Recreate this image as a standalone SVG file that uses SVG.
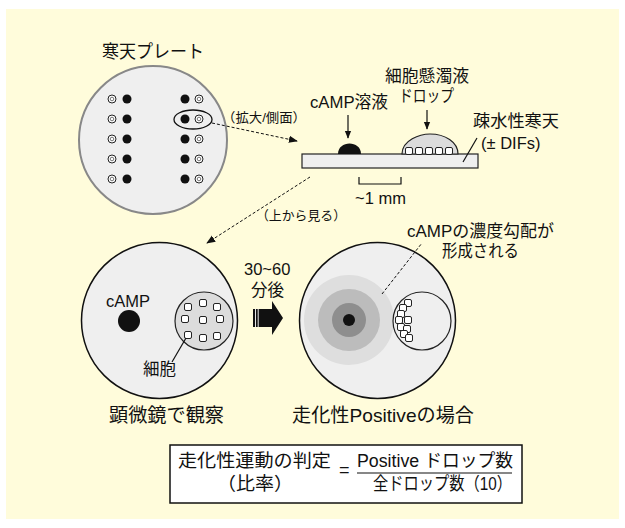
<svg xmlns="http://www.w3.org/2000/svg" width="625" height="528" viewBox="0 0 625 528">
  <defs>
    <marker id="arrowDown" viewBox="0 0 10 10" refX="9" refY="5" markerWidth="8" markerHeight="8" orient="auto" markerUnits="userSpaceOnUse">
      <path d="M0,1 L10,5 L0,9 Z" fill="#111"/>
    </marker>
    <marker id="arrowDash" viewBox="0 0 10 10" refX="9" refY="5" markerWidth="9" markerHeight="9" orient="auto" markerUnits="userSpaceOnUse">
      <path d="M0,1 L10,5 L0,9 Z" fill="#111"/>
    </marker>
    <rect id="cell" x="-3.5" y="-3.5" width="7" height="7" rx="1.5"/>
    <g id="well">
      <circle r="4" fill="#fff" stroke="#222" stroke-width="1"/>
      <circle r="1.8" fill="none" stroke="#555" stroke-width="0.8"/>
    </g>
  </defs>
  <style>
    text { font-family: "Liberation Sans", "Noto Sans CJK JP", sans-serif; fill: #111; }
    .t19 { font-size: 19px; }
    .t18 { font-size: 18px; }
    .t16 { font-size: 16.5px; }
    .t15 { font-size: 15.5px; }
    .t13 { font-size: 13px; }
    .dish { fill: #efefef; stroke: #111; stroke-width: 1.5; }
    .drop { fill: #dcdcdc; stroke: #222; stroke-width: 1.2; }
    .cell use { fill: #fff; stroke: #222; stroke-width: 1; }
    .dash { fill: none; stroke: #111; stroke-width: 1; stroke-dasharray: 3 2; }
    .solid { fill: none; stroke: #111; stroke-width: 1.2; }
  </style>

  <!-- page background -->
  <rect x="0" y="0" width="625" height="528" fill="#fff"/>
  <rect x="6" y="9" width="613" height="510" fill="#fffcdb"/>

  <!-- agar plate, top view -->
  <g id="plate">
    <text class="t18" x="102" y="58" textLength="102" lengthAdjust="spacingAndGlyphs">寒天プレート</text>
    <circle cx="153" cy="140" r="74" fill="#efefef" stroke="#888" stroke-width="2"/>
    <g fill="#111">
      <circle cx="127" cy="99" r="4.5"/><circle cx="127" cy="119" r="4.5"/><circle cx="127" cy="139" r="4.5"/><circle cx="127" cy="159" r="4.5"/><circle cx="127" cy="179" r="4.5"/>
      <circle cx="185" cy="99" r="4.5"/><circle cx="185" cy="119" r="4.5"/><circle cx="185" cy="139" r="4.5"/><circle cx="185" cy="159" r="4.5"/><circle cx="185" cy="179" r="4.5"/>
    </g>
    <use href="#well" x="112" y="99"/><use href="#well" x="112" y="119"/><use href="#well" x="112" y="139"/><use href="#well" x="112" y="159"/><use href="#well" x="112" y="179"/>
    <use href="#well" x="199" y="99"/><use href="#well" x="199" y="119"/><use href="#well" x="199" y="139"/><use href="#well" x="199" y="159"/><use href="#well" x="199" y="179"/>
    <ellipse cx="193" cy="119.5" rx="19" ry="9.5" fill="none" stroke="#111" stroke-width="1.3"/>
  </g>

  <!-- side view of one drop pair -->
  <g id="side-view">
    <text class="t16" x="385" y="82" textLength="84" lengthAdjust="spacingAndGlyphs">細胞懸濁液</text>
    <text class="t16" x="399" y="102" textLength="55" lengthAdjust="spacingAndGlyphs">ドロップ</text>
    <text class="t16" x="310" y="108" textLength="78" lengthAdjust="spacingAndGlyphs">cAMP溶液</text>
    <text class="t16" x="473" y="127" textLength="86" lengthAdjust="spacingAndGlyphs">疎水性寒天</text>
    <text class="t16" x="481" y="149">(± DIFs)</text>
    <rect x="302" y="154" width="176" height="14" fill="#efefef" stroke="#222" stroke-width="1.2"/>
    <path d="M338,154 C338,140 361,140 361,154 Z" fill="#111"/>
    <path d="M402,154 C402,140 420,134 430,134 C445,134 458,142 458,154 Z" class="drop"/>
    <g class="cell">
      <use href="#cell" x="409" y="151"/>
      <use href="#cell" x="419" y="151"/>
      <use href="#cell" x="429" y="151"/>
      <use href="#cell" x="439" y="151"/>
      <use href="#cell" x="449" y="151"/>
    </g>
    <path d="M359,177 V184 H401 V177" class="solid"/>
    <text class="t16" x="355" y="204">~1 mm</text>
  </g>

  <!-- observation under the microscope -->
  <g id="microscope-view">
    <circle cx="159.5" cy="320.5" r="78" class="dish"/>
    <text class="t16" x="106" y="307">cAMP</text>
    <circle cx="129" cy="321" r="11" fill="#111"/>
    <circle cx="204" cy="321" r="29" class="drop"/>
    <g class="cell">
      <use href="#cell" x="188" y="307"/><use href="#cell" x="203" y="303"/><use href="#cell" x="217" y="307"/>
      <use href="#cell" x="185" y="319"/><use href="#cell" x="203" y="320"/><use href="#cell" x="220" y="319"/>
      <use href="#cell" x="188" y="335"/><use href="#cell" x="203" y="338"/><use href="#cell" x="217" y="336"/>
    </g>
    <text class="t16" x="143" y="375" textLength="33" lengthAdjust="spacingAndGlyphs">細胞</text>
    <text class="t19" x="109" y="422" textLength="115" lengthAdjust="spacingAndGlyphs">顕微鏡で観察</text>
  </g>

  <!-- elapsed time -->
  <g id="time-step">
    <text class="t16" x="244" y="275">30~60</text>
    <text class="t16" x="251" y="296" textLength="33" lengthAdjust="spacingAndGlyphs">分後</text>
    <path d="M253,309 H272 V301 L283,318 L272,335 V327 H253 Z" fill="#111"/>
    <path d="M255.5,309 V327 M258.2,309 V327" stroke="#fff" stroke-width="0.9"/>
  </g>

  <!-- positive chemotaxis result -->
  <g id="positive-view">
    <circle cx="377.5" cy="320.5" r="78" class="dish"/>
    <circle cx="349" cy="320" r="45" fill="#dedede"/>
    <circle cx="349" cy="320" r="31" fill="#bcbcbc"/>
    <circle cx="349" cy="320" r="17" fill="#8e8e8e"/>
    <circle cx="349" cy="320" r="6" fill="#111"/>
    <circle cx="422" cy="321" r="29" fill="#efefef" stroke="#222" stroke-width="1.2"/>
    <g class="cell">
      <use href="#cell" x="408" y="303"/><use href="#cell" x="403" y="308"/><use href="#cell" x="401" y="314"/>
      <use href="#cell" x="399" y="320"/><use href="#cell" x="408" y="320"/><use href="#cell" x="401" y="327"/>
      <use href="#cell" x="407" y="329"/><use href="#cell" x="404" y="334"/><use href="#cell" x="409" y="338"/>
    </g>
    <text class="t16" x="407" y="237" textLength="147" lengthAdjust="spacingAndGlyphs">cAMPの濃度勾配が</text>
    <text class="t16" x="442" y="257" textLength="77" lengthAdjust="spacingAndGlyphs">形成される</text>
    <text class="t19" x="292" y="422" textLength="182" lengthAdjust="spacingAndGlyphs">走化性Positiveの場合</text>
  </g>

  <!-- ratio formula -->
  <g id="formula">
    <rect x="170" y="445" width="352" height="58" fill="#fff" stroke="#111" stroke-width="1.5"/>
    <text class="t18" x="178" y="467" textLength="153" lengthAdjust="spacingAndGlyphs">走化性運動の判定</text>
    <text class="t18" x="217" y="490" textLength="76" lengthAdjust="spacingAndGlyphs">（比率）</text>
    <text class="t18" x="339" y="476">=</text>
    <text class="t18" x="357" y="467" textLength="156" lengthAdjust="spacingAndGlyphs">Positive ドロップ数</text>
    <line x1="357" y1="473" x2="512" y2="473" stroke="#111" stroke-width="1.2"/>
    <text class="t18" x="373" y="490" textLength="139" lengthAdjust="spacingAndGlyphs">全ドロップ数（10）</text>
  </g>

  <!-- connectors and labels on them -->
  <g id="connectors">
    <line x1="348" y1="115" x2="348" y2="138" class="solid" marker-end="url(#arrowDown)"/>
    <line x1="427" y1="110" x2="427" y2="129" class="solid" marker-end="url(#arrowDown)"/>
    <line x1="463" y1="162" x2="477" y2="138" class="solid" stroke-width="1"/>
    <line x1="212" y1="123" x2="297" y2="141" class="dash" marker-end="url(#arrowDash)"/>
    <text class="t13" x="222" y="122" textLength="84" lengthAdjust="spacingAndGlyphs">（拡大/側面）</text>
    <line x1="310" y1="177" x2="207" y2="243" class="dash" marker-end="url(#arrowDash)"/>
    <text class="t13" x="256" y="220" textLength="90" lengthAdjust="spacingAndGlyphs">（上から見る）</text>
    <line x1="186" y1="338" x2="172" y2="362" class="solid" stroke-width="1"/>
    <line x1="382" y1="294" x2="422" y2="243" class="dash" stroke-width="0.9"/>
  </g>
</svg>
